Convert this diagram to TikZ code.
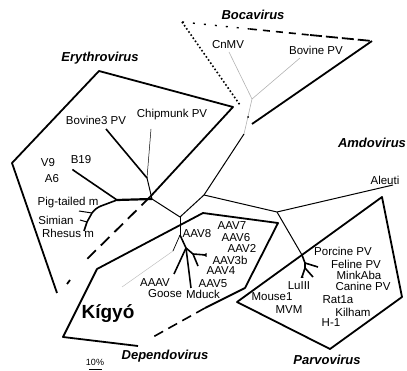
\documentclass[tikz,border=0pt]{standalone}
\usepackage{fontspec}
\setmainfont{Liberation Sans}
\begin{document}
\begin{tikzpicture}[x=1pt,y=-1pt,
  lab/.style={inner sep=0pt, font=\fontsize{11.5}{12}\selectfont},
  grp/.style={inner sep=0pt, font=\fontsize{13}{14}\selectfont\bfseries\itshape},
  poly/.style={line width=1.8pt, line join=round},
  br/.style={line width=1pt},
  thk/.style={line width=1.6pt},
  gbr/.style={line width=0.6pt, black!30},
]
\useasboundingbox (0,0) rectangle (407,371);
% ---------- tree points ----------
\coordinate (E0) at (117,200);
\coordinate (B19e) at (73,170);
\coordinate (Q1) at (101,206);
\coordinate (Q2) at (92,213);
\coordinate (Q3) at (87,222);
\coordinate (Q4) at (84,231);
\coordinate (Q2t) at (79,211);
\coordinate (Q3t) at (80,220);
\coordinate (M1) at (152,199);
\coordinate (BC) at (147,178);
\coordinate (Bov3e) at (106,129);
\coordinate (Chipe) at (151,129);
\coordinate (D0) at (180,217);
\coordinate (J) at (204,195);
\coordinate (K1) at (244,134);
\coordinate (BN) at (252,99);
\coordinate (CnMVe) at (229,52);
\coordinate (BovPVe) at (300,58);
\coordinate (P0) at (277,212);
\coordinate (Aleue) at (393,185);
\coordinate (P1) at (302,255);
\coordinate (P2) at (305,263);
\coordinate (P2e) at (318,267);
\coordinate (P3) at (305,268);
\coordinate (P3a) at (302,277);
\coordinate (P3b) at (313,277);
\coordinate (D1) at (180,235);
\coordinate (D2) at (186,248);
\coordinate (D3) at (193,254);
\coordinate (AAAVe) at (174,274);
\coordinate (Mducke) at (191,288);
\coordinate (D3a) at (198,266);
\coordinate (D3b) at (206,255);
\coordinate (Kb) at (173,251);
\coordinate (Ke) at (122,287);
% ---------- branches ----------
\draw[thk] (E0) -- (B19e);
\fill (B19e) circle (1pt);
\draw[thk] (E0) -- (Q1) to[bend right=15] (Q2) -- (Q3) -- (Q4);
\draw[br] (Q2) -- (Q2t);
\draw[br] (Q3) -- (Q3t);
\draw[line width=2.2pt] (E0) -- (M1);
\draw[br] (M1) -- (BC);
\draw[thk] (BC) -- (Bov3e);
\draw[line width=0.5pt] (BC) -- (Chipe);
\draw[br] (M1) -- (D0);
\draw[br] (D0) -- (J);
\draw[br] (J) -- (K1);
\draw[gbr] (K1) -- (BN);
\draw[gbr] (BN) -- (CnMVe);
\draw[gbr] (BN) -- (BovPVe);
\draw[br] (J) -- (P0);
\draw[br] (P0) -- (Aleue);
\draw[br] (P0) -- (P1);
\draw[thk] (P1) -- (P2) -- (P3);
\draw[thk] (P2) -- (P2e);
\draw[thk] (P3) -- (P3a);
\draw[thk] (P3) -- (P3b);
\fill (P3a) ++(-1.5,1) -- ++(3,0) -- ++(-1,-3.5) -- cycle;
\draw[br] (D0) -- (D1);
\draw[thk] (D1) -- (D2) -- (D3);
\draw[thk] (D2) -- (AAAVe);
\draw[thk] (D2) -- (Mducke);
\draw[thk] (D3) -- (D3a);
\draw[thk] (D3) -- (D3b);
\fill (D3b) ++(0.5,-2) -- ++(0,4) -- ++(-3.5,-2) -- cycle;
\draw[line width=0.7pt] (D1) -- (Kb);
\draw[line width=0.5pt, black!25] (Kb) -- (Ke);
% ---------- group outlines ----------
\draw[poly] (57,293) -- (12,163) -- (99,71) -- (233,107) -- (150,197);
\draw[poly, dash pattern=on 12pt off 7pt] (150,197) -- (83,263);
\draw[poly] (70,280) -- (67,284);
\draw[line width=1.6pt, dash pattern=on 1.6pt off 2.2pt] (182,22) -- (240,105);
\fill (248,117) circle (1pt);
\draw[line width=1.4pt, dash pattern=on 2pt off 9pt] (182,22) -- (250,29);
\draw[line width=1.6pt, dash pattern=on 7pt off 6pt] (250,29) -- (310,35);
\draw[line width=1.8pt, dash pattern=on 12pt off 4pt] (310,35) -- (372,41);
\draw[poly] (372,41) -- (252,124);
\draw[poly] (205,308) -- (245,288) -- (278,223) -- (203,213) -- (97,269) -- (63,337) -- (138,346);
\draw[line width=1.6pt, dash pattern=on 10pt off 6pt] (205,308) -- (153,337);
\draw[poly] (237,302) -- (382,197) -- (402,297) -- (330,349) -- cycle;
% ---------- group labels ----------
\node[grp] (erythro) at (100,58) {Erythrovirus};
\node[grp] (boca) at (253,15) {Bocavirus};
\node[grp] (amdo) at (372,143) {Amdovirus};
\node[grp] (dependo) at (165,356) {Dependovirus};
\node[grp] (parvo) at (327,360) {Parvovirus};
\node[inner sep=0pt, font=\fontsize{19}{20}\selectfont\bfseries] (kigyo) at (108,314) {Kígyó};
% ---------- leaf labels ----------
\node[lab] (lbov3) at (96,120) {Bovine3 PV};
\node[lab] (lchip) at (172,115) {Chipmunk PV};
\node[lab] (lv9) at (48,163) {V9};
\node[lab] (lb19) at (81,160) {B19};
\node[lab] (la6) at (52,179) {A6};
\node[lab] (lpig) at (68,203) {Pig-tailed m};
\node[lab] (lsim) at (56,220) {Simian};
\node[lab] (lrhe) at (68,233) {Rhesus m};
\node[lab] (lcn) at (228,45) {CnMV};
\node[lab] (lbpv) at (316,50) {Bovine PV};
\node[lab] (lale) at (385,180) {Aleuti};
\node[lab] (laav7) at (232,226) {AAV7};
\node[lab] (laav6) at (236,238) {AAV6};
\node[lab] (laav2) at (242,248) {AAV2};
\node[lab] (laav3b) at (230,260) {AAV3b};
\node[lab] (laav4) at (221,271) {AAV4};
\node[lab] (laav5) at (213,284) {AAV5};
\node[lab] (lmduck) at (203,294) {Mduck};
\node[lab] (lgoose) at (165,294) {Goose};
\node[lab] (laaav) at (155,283) {AAAV};
\node[lab] (laav8) at (197,234) {AAV8};
\node[lab] (lpor) at (343,251) {Porcine PV};
\node[lab] (lfel) at (356,264) {Feline PV};
\node[lab] (lmink) at (359,275) {MinkAba};
\node[lab] (lcan) at (363,286) {Canine PV};
\node[lab] (llu) at (299,286) {LuIII};
\node[lab] (lmou) at (272,297) {Mouse1};
\node[lab] (lmvm) at (289,310) {MVM};
\node[lab] (lrat) at (338,300) {Rat1a};
\node[lab] (lkil) at (353,312) {Kilham};
\node[lab] (lh1) at (331,323) {H-1};
% ---------- scale bar ----------
\node[inner sep=0pt, font=\fontsize{9}{10}\selectfont] (scale) at (95,362) {10\%};
\coordinate (sb1) at (89,369);
\coordinate (sb2) at (102,369);
\draw[line width=0.6pt] (sb1) -- (sb2);
\end{tikzpicture}
\end{document}
